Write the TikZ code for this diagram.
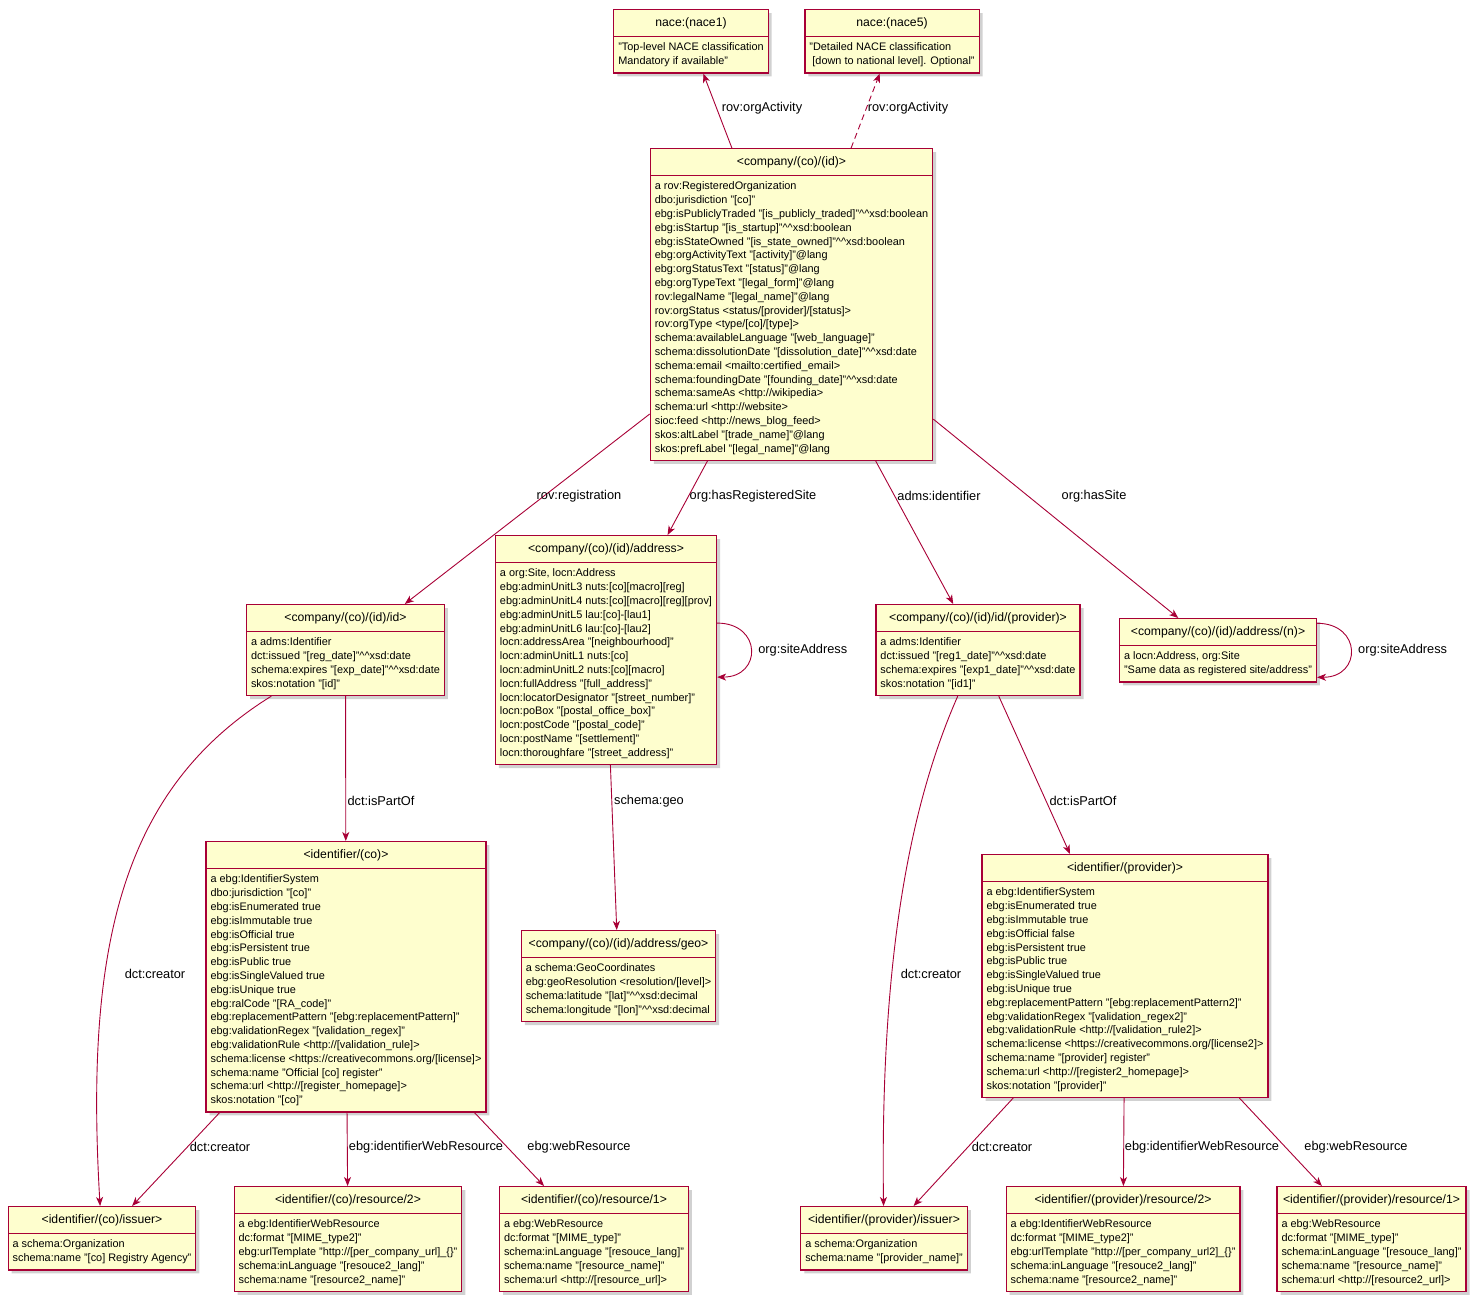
\documentclass[tikz,border=0pt]{standalone}
\usepackage{fontspec}
\setmainfont{Liberation Sans}
\usetikzlibrary{arrows.meta,shapes.multipart,shadows}
\definecolor{umlred}{HTML}{A80036}
\definecolor{umlfill}{HTML}{FEFECE}
\newcommand{\umlbody}{\fontsize{10.9}{13.8}\selectfont}
\newcommand{\umltitle}{\fontsize{12.2}{15}\selectfont}
\newcommand{\umllabel}{\fontsize{12.8}{15}\selectfont}
\newcommand{\boxtitle}[1]{{\umltitle\strut #1}}
\newcommand{\hats}{\textasciicircum\textasciicircum}
\tikzstyle{umlbox} = [rectangle split, rectangle split parts=2, rectangle split part align={center,left}, align=left, anchor=north, draw=umlred, fill=umlfill, line width=1.2pt, inner xsep=4.5pt, inner ysep=5.5pt, font=\umlbody, drop shadow={shadow xshift=3.5pt, shadow yshift=-3.5pt, opacity=0.18, fill=black}]
\tikzstyle{arrow} = [line width=0.9pt, -{Stealth[length=9pt,width=7pt,inset=2.5pt]}, color=umlred]
\tikzstyle{elabel} = [font=\umllabel, inner sep=1pt, text=black]

\begin{document}
\begin{tikzpicture}[x=1pt, y=-1pt]
\useasboundingbox (0,0) rectangle (1478,1298);

% NACE classes
\node[umlbox] (nace1) at (691,9) {\boxtitle{nace:(nace1)}\nodepart{two}"Top-level NACE classification\\Mandatory if available"};
\node[umlbox] (nace5) at (892,9) {\boxtitle{nace:(nace5)}\nodepart{two}"Detailed NACE classification\\\hspace*{3pt}[down to national level]. Optional"};

% Company
\node[umlbox] (company) at (791.5,148) {\boxtitle{<company/(co)/(id)>}\nodepart{two}a rov:RegisteredOrganization\\
dbo:jurisdiction "[co]"\\
ebg:isPubliclyTraded "[is\_publicly\_traded]"\hats xsd:boolean\\
ebg:isStartup "[is\_startup]"\hats xsd:boolean\\
ebg:isStateOwned "[is\_state\_owned]"\hats xsd:boolean\\
ebg:orgActivityText "[activity]"@lang\\
ebg:orgStatusText "[status]"@lang\\
ebg:orgTypeText "[legal\_form]"@lang\\
rov:legalName "[legal\_name]"@lang\\
rov:orgStatus <status/[provider]/[status]>\\
rov:orgType <type/[co]/[type]>\\
schema:availableLanguage "[web\_language]"\\
schema:dissolutionDate "[dissolution\_date]"\hats xsd:date\\
schema:email <mailto:certified\_email>\\
schema:foundingDate "[founding\_date]"\hats xsd:date\\
schema:sameAs <http://wikipedia>\\
schema:url <http://website>\\
sioc:feed <http://news\_blog\_feed>\\
skos:altLabel "[trade\_name]"@lang\\
skos:prefLabel "[legal\_name]"@lang};

% Second row
\node[umlbox] (compid) at (345.5,604) {\boxtitle{<company/(co)/(id)/id>}\nodepart{two}a adms:Identifier\\
dct:issued "[reg\_date]"\hats xsd:date\\
schema:expires "[exp\_date]"\hats xsd:date\\
skos:notation "[id]"};
\node[umlbox] (address) at (606,535) {\boxtitle{<company/(co)/(id)/address>}\nodepart{two}a org:Site, locn:Address\\
ebg:adminUnitL3 nuts:[co][macro][reg]\\
ebg:adminUnitL4 nuts:[co][macro][reg][prov]\\
ebg:adminUnitL5 lau:[co]-[lau1]\\
ebg:adminUnitL6 lau:[co]-[lau2]\\
locn:addressArea "[neighbourhood]"\\
locn:adminUnitL1 nuts:[co]\\
locn:adminUnitL2 nuts:[co][macro]\\
locn:fullAddress "[full\_address]"\\
locn:locatorDesignator "[street\_number]"\\
locn:poBox "[postal\_office\_box]"\\
locn:postCode "[postal\_code]"\\
locn:postName "[settlement]"\\
locn:thoroughfare "[street\_address]"};
\node[umlbox] (provid) at (978,604) {\boxtitle{<company/(co)/(id)/id/(provider)>}\nodepart{two}a adms:Identifier\\
dct:issued "[reg1\_date]"\hats xsd:date\\
schema:expires "[exp1\_date]"\hats xsd:date\\
skos:notation "[id1]"};
\node[umlbox] (addressn) at (1218,618) {\boxtitle{<company/(co)/(id)/address/(n)>}\nodepart{two}a locn:Address, org:Site\\
"Same data as registered site/address"};

% Identifier systems
\node[umlbox] (identco) at (346,841) {\boxtitle{<identifier/(co)>}\nodepart{two}a ebg:IdentifierSystem\\
dbo:jurisdiction "[co]"\\
ebg:isEnumerated true\\
ebg:isImmutable true\\
ebg:isOfficial true\\
ebg:isPersistent true\\
ebg:isPublic true\\
ebg:isSingleValued true\\
ebg:isUnique true\\
ebg:ralCode "[RA\_code]"\\
ebg:replacementPattern "[ebg:replacementPattern]"\\
ebg:validationRegex "[validation\_regex]"\\
ebg:validationRule <http://[validation\_rule]>\\
schema:license <https://creativecommons.org/[license]>\\
schema:name "Official [co] register"\\
schema:url <http://[register\_homepage]>\\
skos:notation "[co]"};
\node[umlbox] (geo) at (618.5,930) {\boxtitle{<company/(co)/(id)/address/geo>}\nodepart{two}a schema:GeoCoordinates\\
ebg:geoResolution <resolution/[level]>\\
schema:latitude "[lat]"\hats xsd:decimal\\
schema:longitude "[lon]"\hats xsd:decimal};
\node[umlbox] (identprov) at (1125,854) {\boxtitle{<identifier/(provider)>}\nodepart{two}a ebg:IdentifierSystem\\
ebg:isEnumerated true\\
ebg:isImmutable true\\
ebg:isOfficial false\\
ebg:isPersistent true\\
ebg:isPublic true\\
ebg:isSingleValued true\\
ebg:isUnique true\\
ebg:replacementPattern "[ebg:replacementPattern2]"\\
ebg:validationRegex "[validation\_regex2]"\\
ebg:validationRule <http://[validation\_rule2]>\\
schema:license <https://creativecommons.org/[license2]>\\
schema:name "[provider] register"\\
schema:url <http://[register2\_homepage]>\\
skos:notation "[provider]"};

% Bottom row
\node[umlbox] (coissuer) at (102,1206) {\boxtitle{<identifier/(co)/issuer>}\nodepart{two}a schema:Organization\\
schema:name "[co] Registry Agency"};
\node[umlbox] (cores2) at (348,1186) {\boxtitle{<identifier/(co)/resource/2>}\nodepart{two}a ebg:IdentifierWebResource\\
dc:format "[MIME\_type2]"\\
ebg:urlTemplate "http://[per\_company\_url]\_\{\}"\\
schema:inLanguage "[resouce2\_lang]"\\
schema:name "[resource2\_name]"};
\node[umlbox] (cores1) at (594,1186) {\boxtitle{<identifier/(co)/resource/1>}\nodepart{two}a ebg:WebResource\\
dc:format "[MIME\_type]"\\
schema:inLanguage "[resouce\_lang]"\\
schema:name "[resource\_name]"\\
schema:url <http://[resource\_url]>};
\node[umlbox] (provissuer) at (884,1206) {\boxtitle{<identifier/(provider)/issuer>}\nodepart{two}a schema:Organization\\
schema:name "[provider\_name]"};
\node[umlbox] (provres2) at (1123,1186) {\boxtitle{<identifier/(provider)/resource/2>}\nodepart{two}a ebg:IdentifierWebResource\\
dc:format "[MIME\_type2]"\\
ebg:urlTemplate "http://[per\_company\_url2]\_\{\}"\\
schema:inLanguage "[resouce2\_lang]"\\
schema:name "[resource2\_name]"};
\node[umlbox] (provres1) at (1371.5,1186) {\boxtitle{<identifier/(provider)/resource/1>}\nodepart{two}a ebg:WebResource\\
dc:format "[MIME\_type]"\\
schema:inLanguage "[resouce\_lang]"\\
schema:name "[resource\_name]"\\
schema:url <http://[resource2\_url]>};

% Arrows
\draw[arrow] (company) -- (nace1) node[elabel] at (762,108) {rov:orgActivity};
\draw[arrow, dash pattern=on 6pt off 4pt] (company) -- (nace5) node[elabel] at (908,108) {rov:orgActivity};
\draw[arrow] (company) -- (compid) node[elabel] at (579,496) {rov:registration};
\draw[arrow] (company) -- (address) node[elabel] at (753,496) {org:hasRegisteredSite};
\draw[arrow] (company) -- (provid) node[elabel] at (939,496) {adms:identifier};
\draw[arrow] (company) -- (addressn) node[elabel] at (1094,496) {org:hasSite};
\draw[arrow] ([yshift=27pt]address.east) .. controls +(45,0) and +(45,0) .. ([yshift=-27pt]address.east) node[elabel, pos=0.5, anchor=west, xshift=6pt] {org:siteAddress};
\draw[arrow] ([yshift=27pt]addressn.east) .. controls +(45,0) and +(45,0) .. ([yshift=-27pt]addressn.east) node[elabel, pos=0.5, anchor=west, xshift=6pt] {org:siteAddress};
\draw[arrow] (compid) -- (identco) node[elabel] at (381,801) {dct:isPartOf};
\draw[arrow] (compid) .. controls (120,790) and (85,950) .. (coissuer) node[elabel] at (155,974) {dct:creator};
\draw[arrow] (address) -- (geo) node[elabel] at (649,801) {schema:geo};
\draw[arrow] (provid) -- (identprov) node[elabel] at (1083,801) {dct:isPartOf};
\draw[arrow] (provid) .. controls (912,800) and (880,950) .. (provissuer) node[elabel] at (931,974) {dct:creator};
\draw[arrow] (identco) -- (coissuer) node[elabel] at (220,1147) {dct:creator};
\draw[arrow] (identco) -- (cores2) node[elabel] at (426,1147) {ebg:identifierWebResource};
\draw[arrow] (identco) -- (cores1) node[elabel] at (579,1147) {ebg:webResource};
\draw[arrow] (identprov) -- (provissuer) node[elabel] at (1002,1147) {dct:creator};
\draw[arrow] (identprov) -- (provres2) node[elabel] at (1202,1147) {ebg:identifierWebResource};
\draw[arrow] (identprov) -- (provres1) node[elabel] at (1356,1147) {ebg:webResource};
\end{tikzpicture}
\end{document}
